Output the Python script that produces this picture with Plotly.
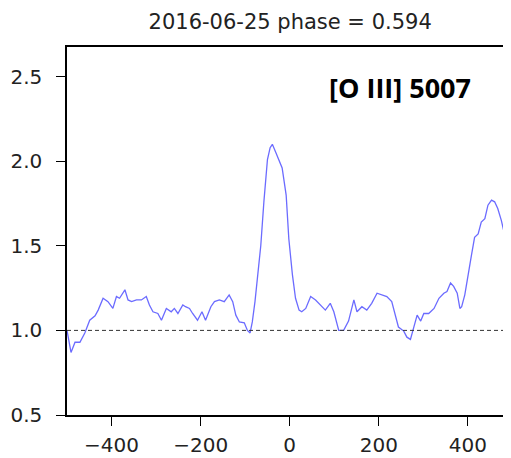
import plotly.graph_objects as go

# Velocity (km/s) and normalized flux
velocity = [-500, -495, -491, -482, -471, -460, -449, -437, -430, -419, -408, -397, -389,
            -382, -370, -363, -355, -344, -333, -322, -315, -307, -296, -288, -277, -266,
            -259, -251, -240, -234, -225, -218, -207, -197, -189, -177, -169, -158, -147,
            -136, -128, -121, -113, -102, -95, -89, -84, -78, -73, -65, -58, -50, -44,
            -39, -31, -24, -17, -8, -2, 6, 13, 21, 27, 36, 47, 58, 69, 80, 91, 99, 110,
            121, 132, 144, 151, 162, 173, 184, 196, 207, 218, 229, 237, 244, 256, 263,
            271, 278, 286, 294, 301, 312, 324, 335, 346, 353, 361, 368, 376, 382, 386,
            393, 400, 408, 415, 423, 430, 438, 445, 453, 460, 467, 475, 483, 490]
flux = [1.00, 0.93, 0.87, 0.93, 0.93, 0.985, 1.06, 1.086, 1.12, 1.19, 1.17, 1.13, 1.20,
        1.19, 1.24, 1.18, 1.17, 1.18, 1.18, 1.20, 1.15, 1.11, 1.10, 1.06, 1.13, 1.11,
        1.13, 1.10, 1.15, 1.14, 1.13, 1.10, 1.06, 1.11, 1.06, 1.14, 1.17, 1.18, 1.17,
        1.21, 1.17, 1.09, 1.05, 1.045, 1.00, 0.985, 1.05, 1.17, 1.30, 1.50, 1.76, 2.01,
        2.08, 2.10, 2.05, 2.00, 1.96, 1.80, 1.54, 1.33, 1.19, 1.12, 1.11, 1.13, 1.20,
        1.18, 1.15, 1.12, 1.16, 1.11, 1.00, 1.00, 1.055, 1.18, 1.11, 1.14, 1.12, 1.16,
        1.22, 1.21, 1.20, 1.17, 1.09, 1.02, 0.996, 0.96, 0.947, 1.016, 1.09, 1.055, 1.10,
        1.10, 1.13, 1.19, 1.22, 1.23, 1.28, 1.26, 1.22, 1.13, 1.14, 1.21, 1.31, 1.445,
        1.55, 1.57, 1.64, 1.66, 1.74, 1.77, 1.76, 1.72, 1.65, 1.56, 1.39]

x_ticks = [-400, -200, 0, 200, 400]
y_ticks = [0.5, 1.0, 1.5, 2.0, 2.5]
continuum = 1.0
title_text = "2016-06-25 phase = 0.594"
line_label = "[O III] 5007"

fig = go.Figure()
fig.add_trace(go.Scatter(x=velocity, y=flux, mode="lines",
                         line=dict(color="rgba(50,50,255,0.72)", width=1.3),
                         showlegend=False, hoverinfo="skip"))

fig.add_shape(type="line", xref="paper", x0=0, x1=1, yref="y", y0=continuum, y1=continuum,
              line=dict(color="#333333", width=1, dash="4px,3px"))

fig.add_annotation(text="<b>" + line_label + "</b>", xref="paper", yref="paper",
                   x=0.755, y=0.889, xanchor="center", yanchor="middle", showarrow=False,
                   font=dict(family="Open Sans", size=27, color="black"))

axis_common = dict(showline=True, linecolor="black", linewidth=1.5, mirror=True,
                   ticks="outside", ticklen=9, tickwidth=1.3, tickcolor="black",
                   showgrid=False, zeroline=False,
                   tickfont=dict(family="DejaVu Sans", size=20, color="#222222"))

# The page body adds an 8px margin, so the figure is 8px smaller than the window
fig.update_layout(
    width=503, height=450,
    margin=dict(l=59, r=1, t=39, b=40),
    paper_bgcolor="white", plot_bgcolor="white",
    title=dict(text=title_text, x=0.561, xanchor="center", y=1 - 14 / 450, yanchor="middle",
               yref="container", font=dict(family="DejaVu Sans", size=21, color="#222222")),
    xaxis=dict(range=[-500, 490], tickvals=x_ticks, ticklabelstandoff=2,
               ticktext=[("\u2212" + str(abs(v))) if v < 0 else str(v) for v in x_ticks], **axis_common),
    yaxis=dict(range=[0.5, 2.675], tickvals=y_ticks, tickformat=".1f", ticklabelstandoff=10, **axis_common),
)

fig.write_html("out.html")
